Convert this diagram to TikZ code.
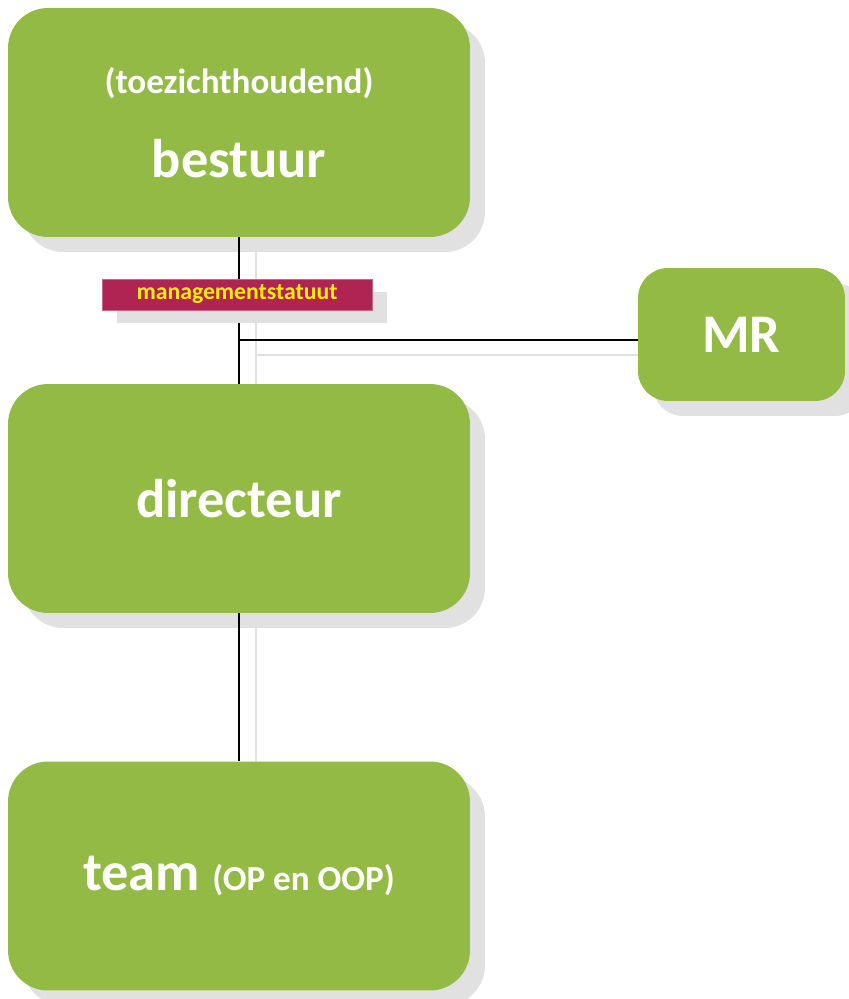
\documentclass[tikz,border=0pt]{standalone}
\usepackage{fontspec}
\setmainfont{Carlito}
\usetikzlibrary{shadows}
\definecolor{boxgreen}{RGB}{148,186,70}
\definecolor{shadowgrey}{RGB}{225,225,225}
\definecolor{labelred}{RGB}{176,36,84}
\definecolor{labelyellow}{RGB}{255,238,0}

\tikzset{
  orgbox/.style={fill=boxgreen, rounded corners=0.8cm, text=white, align=center,
    minimum width=9.24cm, minimum height=4.58cm, inner sep=0pt,
    font=\bfseries\fontsize{31}{48}\selectfont,
    drop shadow={shadow xshift=0.3cm, shadow yshift=-0.3cm, fill=shadowgrey, opacity=1}},
  smallbox/.style={orgbox, minimum width=4.14cm, minimum height=2.66cm, rounded corners=0.6cm,
    drop shadow={shadow xshift=0.4cm, shadow yshift=-0.3cm, fill=shadowgrey, opacity=1}},
  tagbox/.style={fill=labelred, draw=labelred!70!white, text=labelyellow, inner sep=0pt,
    minimum width=5.4cm, minimum height=0.62cm, font=\bfseries\fontsize{13.5}{15}\selectfont,
    drop shadow={shadow xshift=0.3cm, shadow yshift=-0.26cm, fill=shadowgrey, opacity=1}},
  link/.style={line width=1.1pt, black},
  linkshadow/.style={line width=1.1pt, shadowgrey}
}

\begin{document}
\begin{tikzpicture}[x=0.02cm, y=-0.02cm]

  \useasboundingbox (0,0) rectangle (848,999);

  \coordinate (junction) at (239,340);
  \coordinate (jshadow) at (256,355);

  % shadows of the connectors
  \draw[linkshadow] (256,250) -- (256,402);
  \draw[linkshadow] (jshadow) -- (640,355);
  \draw[linkshadow] (256,612) -- (256,762);

  \node[orgbox] (bestuur) at (239,122.5)
    {{\fontsize{20}{48}\selectfont (toezichthoudend)}\\bestuur};
  \node[orgbox] (directeur) at (239,498.5) {directeur};
  \node[orgbox] (team) at (239,876)
    {team {\fontsize{20}{24}\selectfont (OP en OOP)}};
  \node[smallbox] (MR) at (741.5,334.5) {MR};

  \draw[link] (bestuur.south) -- (directeur.north);
  \draw[link] (junction) -- (junction -| MR.west);
  \draw[link] (directeur.south) -- (team.north);

  \node[tagbox] (statuut) at (237,294.5) {managementstatuut};

\end{tikzpicture}
\end{document}
